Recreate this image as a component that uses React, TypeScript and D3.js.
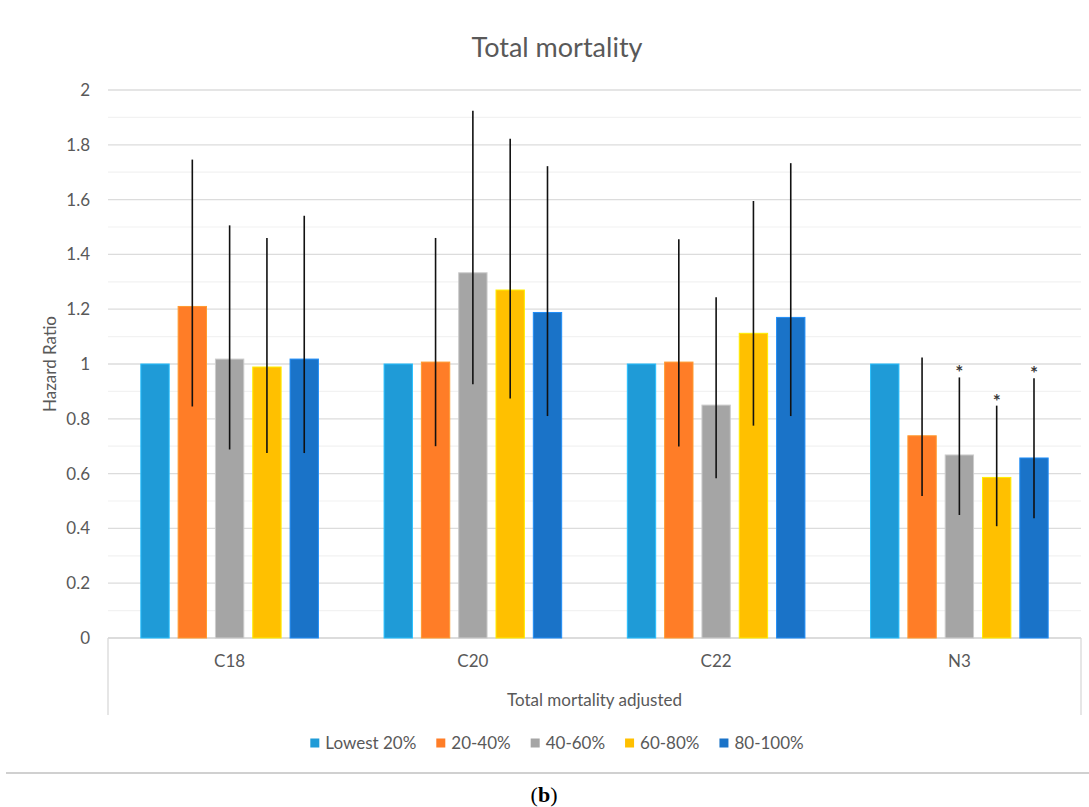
import React from "react";
import * as d3 from "d3";

const categories = ["C18", "C20", "C22", "N3"];
const seriesNames = ["Lowest 20%", "20-40%", "40-60%", "60-80%", "80-100%"];
const seriesColors = ["#1F9BD7", "#FF7D27", "#A5A5A5", "#FFC000", "#1A73C8"];

// hazard ratio per series, across categories C18, C20, C22, N3
const hrLowest = [1.0, 1.0, 1.0, 1.0];
const hr20_40 = [1.21, 1.007, 1.007, 0.738];
const hr40_60 = [1.018, 1.333, 0.85, 0.668];
const hr60_80 = [0.989, 1.27, 1.112, 0.586];
const hr80_100 = [1.018, 1.188, 1.17, 0.657];

// confidence interval bounds (null = no error bar)
const lo20_40 = [0.845, 0.7, 0.699, 0.518];
const hi20_40 = [1.746, 1.46, 1.455, 1.024];
const lo40_60 = [0.688, 0.926, 0.583, 0.449];
const hi40_60 = [1.506, 1.924, 1.244, 0.951];
const lo60_80 = [0.675, 0.874, 0.775, 0.408];
const hi60_80 = [1.46, 1.822, 1.595, 0.848];
const lo80_100 = [0.675, 0.81, 0.81, 0.437];
const hi80_100 = [1.541, 1.722, 1.733, 0.948];

// significance markers (asterisk) per series across categories
const sig20_40 = [false, false, false, false];
const sig40_60 = [false, false, false, true];
const sig60_80 = [false, false, false, true];
const sig80_100 = [false, false, false, true];

const yTicks = [0, 0.2, 0.4, 0.6, 0.8, 1, 1.2, 1.4, 1.6, 1.8, 2];
const minorTicks = [0.1, 0.3, 0.5, 0.7, 0.9, 1.1, 1.3, 1.5, 1.7, 1.9];

const title = "Total mortality";
const yTitle = "Hazard Ratio";
const xTitle = "Total mortality adjusted";

const values = [hrLowest, hr20_40, hr40_60, hr60_80, hr80_100];
const lows = [null, lo20_40, lo40_60, lo60_80, lo80_100];
const highs = [null, hi20_40, hi40_60, hi60_80, hi80_100];
const sigs = [null, sig20_40, sig40_60, sig60_80, sig80_100];

const FONT = "Lato, 'Open Sans', sans-serif";
const TXT = "#595959";

function measure(text: string, font: string): number {
  const c = document.createElement("canvas");
  const ctx = c.getContext("2d");
  if (!ctx) return text.length * 8;
  ctx.font = font;
  return ctx.measureText(text).width;
}

export default function App() {
  const W = 1089;
  const H = 807;
  const left = 108;
  const right = 1081;
  const top = 90;
  const bottom = 638;
  const centerX = 557;

  const y = d3.scaleLinear().domain([0, 2]).range([bottom, top]);
  const x0 = d3.scaleBand<string>().domain(categories).range([left, right]).padding(0);
  const groupW = 177.6;
  const x1 = d3
    .scaleBand<string>()
    .domain(seriesNames)
    .range([0, groupW])
    .paddingInner(0.24)
    .paddingOuter(0);

  const legendFontSize = 17;
  const legendFont = `${legendFontSize}px Lato`;
  const sq = 9;
  const items = seriesNames.map((s) => ({ s, w: measure(s, legendFont) }));
  const totalLegend = items.reduce((a, it) => a + sq + 6 + it.w, 0) + 20 * (items.length - 1);
  let lx = centerX - totalLegend / 2;
  const legendPos = items.map((it) => {
    const p = lx;
    lx += sq + 6 + it.w + 20;
    return p;
  });

  return (
    <svg
      width={W}
      height={H}
      style={{ position: "absolute", left: 0, top: 0, display: "block", background: "#fff" }}
    >
      <rect x={0} y={0} width={W} height={H} fill="#fff" />
      <text x={centerX} y={57} textAnchor="middle" fontFamily={FONT} fontSize={27} fill={TXT}>
        {title}
      </text>

      {minorTicks.map((t) => (
        <line key={"m" + t} x1={left} x2={right} y1={y(t)} y2={y(t)} stroke="#F2F2F2" strokeWidth={1.2} />
      ))}
      {yTicks.map((t) => (
        <line key={"g" + t} x1={left} x2={right} y1={y(t)} y2={y(t)} stroke="#DCDCDC" strokeWidth={1.3} />
      ))}
      {yTicks.map((t) => (
        <text
          key={"t" + t}
          x={90}
          y={y(t)}
          dy="0.35em"
          textAnchor="end"
          fontFamily={FONT}
          fontSize={17}
          fill={TXT}
        >
          {d3.format("~g")(t)}
        </text>
      ))}
      <text
        transform={`translate(50,${(top + bottom) / 2}) rotate(-90)`}
        textAnchor="middle"
        dy="0.35em"
        fontFamily={FONT}
        fontSize={17}
        fill={TXT}
      >
        {yTitle}
      </text>

      {/* x axis box */}
      <line x1={left} x2={right} y1={bottom} y2={bottom} stroke="#D9D9D9" strokeWidth={1.3} />
      <line x1={left} x2={left} y1={bottom} y2={715} stroke="#D9D9D9" strokeWidth={1.3} />
      <line x1={right} x2={right} y1={bottom} y2={715} stroke="#D9D9D9" strokeWidth={1.3} />

      {categories.map((c, ci) => {
        const cx = (x0(c) as number) + x0.bandwidth() / 2;
        const gx = cx - groupW / 2;
        return (
          <g key={c}>
            {seriesNames.map((s, si) => {
              const v = values[si][ci];
              const bx = gx + (x1(s) as number);
              const bw = x1.bandwidth();
              const col = seriesColors[si];
              return (
                <rect
                  key={s}
                  x={bx}
                  y={y(v)}
                  width={bw}
                  height={y(0) - y(v)}
                  fill={col}
                  stroke={d3.color(col)!.brighter(0.6).formatHex()}
                  strokeWidth={1}
                />
              );
            })}
            {seriesNames.map((s, si) => {
              const lo = lows[si];
              const hi = highs[si];
              if (!lo || !hi) return null;
              const ex = gx + (x1(s) as number) + x1.bandwidth() / 2;
              const sg = sigs[si];
              return (
                <g key={"e" + s}>
                  <line x1={ex} x2={ex} y1={y(lo[ci])} y2={y(hi[ci])} stroke="#111" strokeWidth={1.6} />
                  {sg && sg[ci] ? (
                    <text
                      x={ex}
                      y={y(hi[ci]) + 2}
                      textAnchor="middle"
                      fontFamily={FONT}
                      fontSize={19}
                      fontWeight="bold"
                      fill="#3a3a3a"
                    >
                      *
                    </text>
                  ) : null}
                </g>
              );
            })}
            <text x={cx} y={661} dy="0.35em" textAnchor="middle" fontFamily={FONT} fontSize={17} fill={TXT}>
              {c}
            </text>
          </g>
        );
      })}
      <text
        x={(left + right) / 2}
        y={700}
        dy="0.35em"
        textAnchor="middle"
        fontFamily={FONT}
        fontSize={17}
        fill={TXT}
      >
        {xTitle}
      </text>

      {items.map((it, i) => (
        <g key={"l" + it.s}>
          <rect x={legendPos[i]} y={743 - sq / 2} width={sq} height={sq} fill={seriesColors[i]} />
          <text
            x={legendPos[i] + sq + 6}
            y={743}
            dy="0.35em"
            fontFamily={FONT}
            fontSize={legendFontSize}
            fill={TXT}
          >
            {it.s}
          </text>
        </g>
      ))}

      <line x1={6} x2={W} y1={773} y2={773} stroke="#D0D0D0" strokeWidth={2} />
      <text x={544} y={802} textAnchor="middle" fontFamily="'Liberation Serif', 'Times New Roman', serif" fontSize={22} fill="#000">
        (<tspan fontWeight="bold">b</tspan>)
      </text>
    </svg>
  );
}
